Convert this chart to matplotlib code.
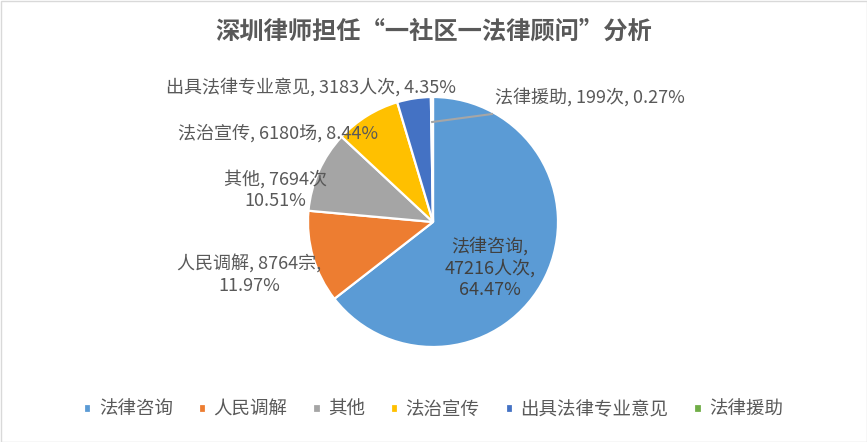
import matplotlib
matplotlib.use("Agg")
import matplotlib.pyplot as plt
from matplotlib.patches import Rectangle
import numpy as np

plt.rcParams['font.family'] = ['Noto Sans CJK SC', 'DejaVu Sans']

# 数据
categories = ['法律咨询', '人民调解', '其他', '法治宣传', '出具法律专业意见', '法律援助']
counts = [47216, 8764, 7694, 6180, 3183, 199]
units = ['人次', '宗', '次', '场', '人次', '次']
percents = [64.47, 11.97, 10.51, 8.44, 4.35, 0.27]
colors = ['#5B9BD5', '#ED7D31', '#A5A5A5', '#FFC000', '#4472C4', '#70AD47']

W, H = 867, 442
fig = plt.figure(figsize=(W / 100, H / 100), dpi=100)
ax = fig.add_axes([0, 0, 1, 1])

cx, cy, r = 433, H - 222, 125
wedges, _ = ax.pie(counts, colors=colors, startangle=90, counterclock=False,
                   center=(cx, cy), radius=r,
                   wedgeprops=dict(edgecolor='white', linewidth=1.6))
ax.set_xlim(0, W)
ax.set_ylim(0, H)
ax.set_aspect('equal')
ax.axis('off')

# 标签位置 (像素坐标, 从上往下)
label_pos = [(490, 268), (249, 275), (275, 190), (278, 133), (311, 87), (590, 97)]
label_txt = [
    f"{categories[0]},\n{counts[0]}{units[0]},\n{percents[0]:.2f}%",
    f"{categories[1]}, {counts[1]}{units[1]},\n{percents[1]:.2f}%",
    f"{categories[2]}, {counts[2]}{units[2]}\n{percents[2]:.2f}%",
    f"{categories[3]}, {counts[3]}{units[3]}, {percents[3]:.2f}%",
    f"{categories[4]}, {counts[4]}{units[4]}, {percents[4]:.2f}%",
    f"{categories[5]}, {counts[5]}{units[5]}, {percents[5]:.2f}%",
]
for i, (txt, (px, py)) in enumerate(zip(label_txt, label_pos)):
    ax.text(px, H - py, txt, ha='center', va='center', fontsize=13,
            color='#404040' if i == 0 else '#595959', linespacing=1.25)

# 法律援助引导线
w = wedges[5]
mid = np.deg2rad((w.theta1 + w.theta2) / 2)
x0, y0 = cx + 0.8 * r * np.cos(mid), cy + 0.8 * r * np.sin(mid)
ax.plot([x0, 492], [y0, H - 114], color='#A6A6A6', lw=1.5)

fig.text(0.5, 1 - 32 / H, '深圳律师担任“一社区一法律顾问”分析', ha='center', va='center',
         fontsize=17.5, fontweight='bold', color='#595959')

fig.legend(wedges, categories, loc='center', bbox_to_anchor=(0.5, 1 - 410 / H),
           ncol=6, frameon=False, fontsize=13.3, labelcolor='#595959',
           handlelength=0.4, handleheight=0.4, handletextpad=0.4, columnspacing=1.4)

ax.add_patch(Rectangle((0.5, 0.5), W - 1, H - 1, fill=False, edgecolor='#D9D9D9', lw=1))

fig.savefig('out.png', dpi=100)
